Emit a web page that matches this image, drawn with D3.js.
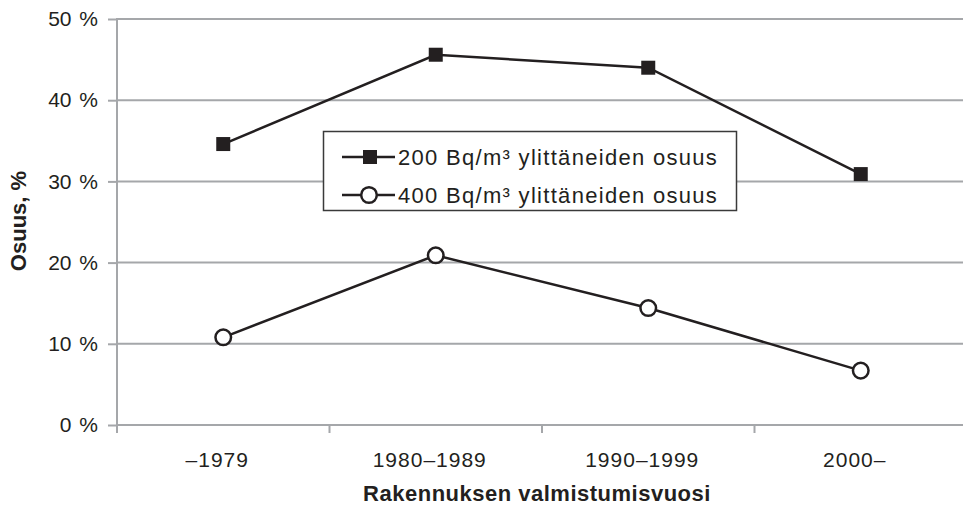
<!DOCTYPE html>
<html>
<head>
<meta charset="utf-8">
<script src="https://cdn.jsdelivr.net/npm/d3@7"></script>
<style>
  body { margin: 0; background: #fff; }
  svg { display: block; font-family: "Liberation Sans", Arial, sans-serif; }
</style>
</head>
<body>
<script>
/* Categories (building completion period) */
var periods = ["\u20131979", "1980\u20131989", "1990\u20131999", "2000\u2013"];

/* Share of homes above 200 and 400 Bq/m3, in percent */
var over200 = [34.6, 45.6, 44.0, 30.9];
var over400 = [10.8, 20.9, 14.4, 6.7];

var yTicks = [0, 10, 20, 30, 40, 50];
var legendLabels = ["200 Bq/m\u00b3 ylitt\u00e4neiden osuus", "400 Bq/m\u00b3 ylitt\u00e4neiden osuus"];

var W = 963, H = 511;
var margin = {top: 19, right: -4, bottom: 86, left: 117};

var ink = "#231f20", grid = "#a5a7aa";

var svg = d3.select("body").append("svg")
    .attr("width", W)
    .attr("height", H);

var x = d3.scaleBand()
    .domain(periods)
    .range([margin.left, W - margin.right]);

var y = d3.scaleLinear()
    .domain([0, 50])
    .range([H - margin.bottom, margin.top]);

// horizontal grid lines
svg.append("g")
    .selectAll("line")
    .data(yTicks)
    .enter().append("line")
    .attr("x1", margin.left)
    .attr("x2", W)
    .attr("y1", function(d){ return y(d); })
    .attr("y2", function(d){ return y(d); })
    .attr("stroke", grid)
    .attr("stroke-width", 2);

// y axis
var yAxis = svg.append("g")
    .attr("transform", "translate(" + margin.left + ",0)")
    .call(d3.axisLeft(y).tickValues(yTicks).tickSize(9).tickPadding(10)
        .tickFormat(function(d){ return d + " %"; }));
yAxis.select(".domain").remove();
yAxis.selectAll(".tick line").attr("stroke", grid).attr("stroke-width", 2);
yAxis.selectAll("text")
    .attr("fill", ink)
    .style("font-size", "21px")
    .style("word-spacing", "2px");
svg.append("line")
    .attr("x1", margin.left).attr("x2", margin.left)
    .attr("y1", y(50) - 1).attr("y2", y(0) + 8)
    .attr("stroke", grid).attr("stroke-width", 2);

// x axis: ticks at band edges, labels at band centres
var edges = periods.map(function(p){ return x(p); });
svg.append("g")
    .selectAll("line")
    .data(edges)
    .enter().append("line")
    .attr("x1", function(d){ return d; })
    .attr("x2", function(d){ return d; })
    .attr("y1", y(0))
    .attr("y2", y(0) + 8)
    .attr("stroke", grid)
    .attr("stroke-width", 2);

svg.append("g")
    .selectAll("text")
    .data(periods)
    .enter().append("text")
    .attr("x", function(d){ return x(d) + x.bandwidth() / 2 - 6; })
    .attr("y", 467)
    .attr("text-anchor", "middle")
    .attr("fill", ink)
    .style("font-size", "21px")
    .style("letter-spacing", "1px")
    .text(function(d){ return d; });

// axis titles
svg.append("text")
    .attr("x", 537)
    .attr("y", 501)
    .attr("text-anchor", "middle")
    .attr("fill", ink)
    .style("font-size", "22px")
    .style("font-weight", "bold")
    .style("letter-spacing", "0.5px")
    .text("Rakennuksen valmistumisvuosi");

svg.append("text")
    .attr("transform", "translate(26,221) rotate(-90)")
    .attr("text-anchor", "middle")
    .attr("fill", ink)
    .style("font-size", "22px")
    .style("font-weight", "bold")
    .text("Osuus, %");

var cx = function(d, i){ return x(periods[i]) + x.bandwidth() / 2; };

var line = d3.line()
    .x(function(d, i){ return cx(d, i); })
    .y(function(d){ return y(d); });

// 200 Bq/m3 series
svg.append("path")
    .datum(over200)
    .attr("d", line)
    .attr("fill", "none")
    .attr("stroke", ink)
    .attr("stroke-width", 2.5);

svg.append("g")
    .selectAll("rect")
    .data(over200)
    .enter().append("rect")
    .attr("x", function(d, i){ return cx(d, i) - 7; })
    .attr("y", function(d){ return y(d) - 7; })
    .attr("width", 14)
    .attr("height", 14)
    .attr("fill", ink);

// 400 Bq/m3 series
svg.append("path")
    .datum(over400)
    .attr("d", line)
    .attr("fill", "none")
    .attr("stroke", ink)
    .attr("stroke-width", 2.5);

svg.append("g")
    .selectAll("circle")
    .data(over400)
    .enter().append("circle")
    .attr("cx", function(d, i){ return cx(d, i); })
    .attr("cy", function(d){ return y(d); })
    .attr("r", 7.8)
    .attr("fill", "#fff")
    .attr("stroke", ink)
    .attr("stroke-width", 2.5);

// legend
var legend = svg.append("g");
legend.append("rect")
    .attr("x", 323.5)
    .attr("y", 131.5)
    .attr("width", 413)
    .attr("height", 79)
    .attr("fill", "#fff")
    .attr("stroke", "#3a3a3a")
    .attr("stroke-width", 1.5);

var rows = legend.selectAll(".row")
    .data(legendLabels)
    .enter().append("g")
    .attr("class", "row")
    .attr("transform", function(d, i){ return "translate(0," + (157 + i * 38) + ")"; });

rows.append("line")
    .attr("x1", 342).attr("x2", 395)
    .attr("stroke", ink).attr("stroke-width", 2.5);

rows.filter(function(d, i){ return i === 0; })
    .append("rect")
    .attr("x", 363).attr("y", -7)
    .attr("width", 14).attr("height", 14)
    .attr("fill", ink);

rows.filter(function(d, i){ return i === 1; })
    .append("circle")
    .attr("cx", 369).attr("r", 7.8)
    .attr("fill", "#fff")
    .attr("stroke", ink).attr("stroke-width", 2.5);

rows.append("text")
    .attr("x", 398)
    .attr("y", 8)
    .attr("fill", ink)
    .style("font-size", "22px")
    .style("letter-spacing", "1.3px")
    .text(function(d){ return d; });
</script>
</body>
</html>
